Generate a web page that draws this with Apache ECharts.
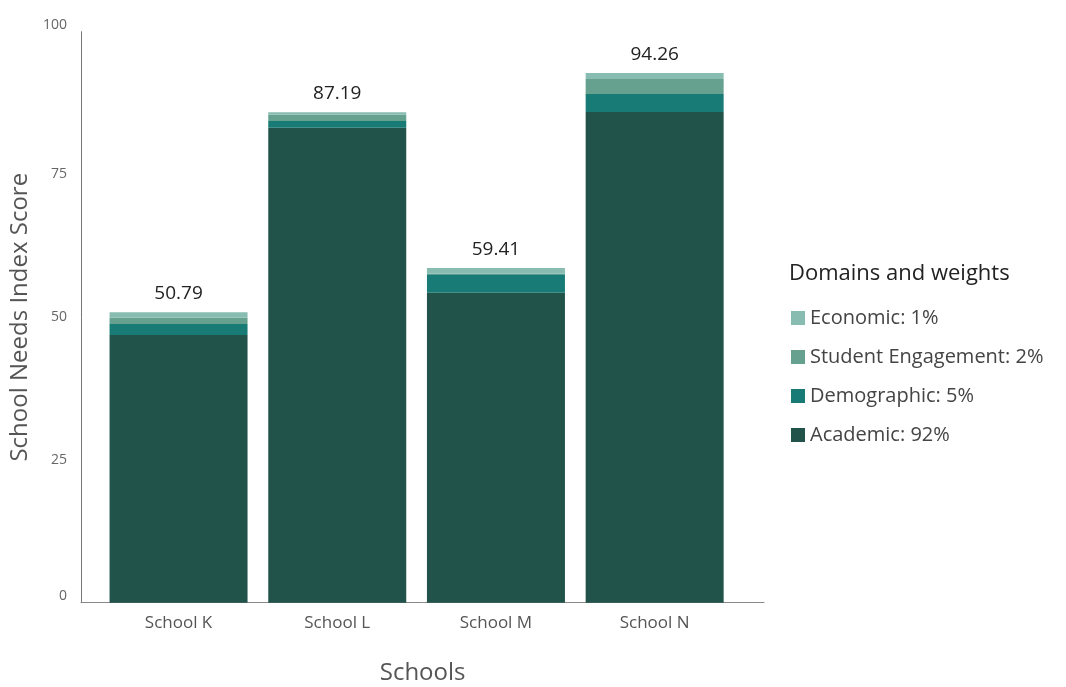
<!DOCTYPE html>
<html>
<head>
<meta charset="utf-8">
<script src="https://cdn.jsdelivr.net/npm/echarts@6/dist/echarts.min.js"></script>
<style>
  html, body { margin: 0; padding: 0; background: #fff; }
  #chart { width: 1066px; height: 687px; }
</style>
</head>
<body>
<div id="chart"></div>
<script>
const SCHOOLS = ['School K', 'School L', 'School M', 'School N']
const TOTALS = ['50.79', '87.19', '59.41', '94.26']
const ACADEMIC = [46.88, 83.19, 54.29, 85.94]
const DEMOGRAPHIC = [1.93, 1.17, 3.22, 3.15]
const ENGAGEMENT = [1.10, 1.10, 0.11, 2.63]
const ECONOMIC = [0.95, 0.42, 1.00, 1.05]
const Y_TICKS = [0, 25, 50, 75, 100]

const FONT = '"Open Sans", Lato, sans-serif'

// 系列名称与颜色
const NAMES = ['Academic: 92%', 'Demographic: 5%', 'Student Engagement: 2%', 'Economic: 1%']
const COLORS = ['#22534a', '#187b76', '#66a08e', '#88bcb1']
const VALUES = [ACADEMIC, DEMOGRAPHIC, ENGAGEMENT, ECONOMIC]

let myChart = echarts.init(document.getElementById('chart'))

const series = VALUES.map((vals, i) => {
  const s = {
    name: NAMES[i],
    type: 'bar',
    stack: 'score',
    xAxisIndex: 1,
    yAxisIndex: 1,
    barWidth: 138,
    itemStyle: { color: COLORS[i] },
    data: vals
  }
  if (i === VALUES.length - 1) {
    // 顶部显示总分
    s.label = {
      show: true,
      position: 'top',
      distance: 9,
      fontFamily: FONT,
      fontSize: 19,
      color: '#222',
      formatter: p => TOTALS[p.dataIndex]
    }
  }
  return s
})

myChart.setOption({
  animation: false,
  title: {
    text: 'Domains and weights',
    left: 784,
    top: 258,
    textStyle: { fontFamily: FONT, fontSize: 22, fontWeight: 'normal', color: '#222' }
  },
  legend: {
    orient: 'vertical',
    left: 786,
    top: 303,
    itemWidth: 14,
    itemHeight: 14,
    itemGap: 19,
    icon: 'rect',
    data: ['Economic: 1%', 'Student Engagement: 2%', 'Demographic: 5%', 'Academic: 92%'],
    textStyle: { fontFamily: FONT, fontSize: 20, color: '#444' }
  },
  grid: [
    { left: 81, right: 302, top: 31.7, bottom: 84.3, outerBoundsMode: 'none' },
    { left: 99.2, right: 332, top: 31.7, bottom: 84.3, outerBoundsMode: 'none' }
  ],
  xAxis: [
    {
      type: 'category',
      gridIndex: 0,
      data: SCHOOLS,
      axisLine: { show: true, lineStyle: { color: '#888', width: 1 } },
      axisTick: { show: false },
      axisLabel: { show: false }
    },
    {
      type: 'category',
      gridIndex: 1,
      data: SCHOOLS,
      axisLine: { show: false },
      axisTick: { show: false },
      axisLabel: { margin: 12, fontFamily: FONT, fontSize: 17, color: '#555' },
      name: 'Schools',
      nameLocation: 'middle',
      nameGap: 58,
      nameTextStyle: { fontFamily: FONT, fontSize: 24, color: '#555', padding: [0, 0, 0, 12] }
    }
  ],
  yAxis: [
    {
      type: 'value',
      gridIndex: 0,
      min: Y_TICKS[0],
      max: Y_TICKS[Y_TICKS.length - 1],
      interval: 25,
      axisLine: { show: true, lineStyle: { color: '#777', width: 1 } },
      axisTick: { show: false },
      splitLine: { show: false },
      axisLabel: {
        margin: 14,
        fontFamily: FONT,
        fontSize: 14,
        color: '#666',
        verticalAlignMinLabel: 'bottom',
        verticalAlignMaxLabel: 'bottom'
      },
      name: 'School Needs Index Score',
      nameLocation: 'middle',
      nameGap: 47,
      nameTextStyle: { fontFamily: FONT, fontSize: 24, color: '#555' }
    },
    {
      type: 'value',
      gridIndex: 1,
      min: Y_TICKS[0],
      max: Y_TICKS[Y_TICKS.length - 1],
      interval: 25,
      show: false,
      splitLine: { show: false }
    }
  ],
  series: series
})
</script>
</body>
</html>
